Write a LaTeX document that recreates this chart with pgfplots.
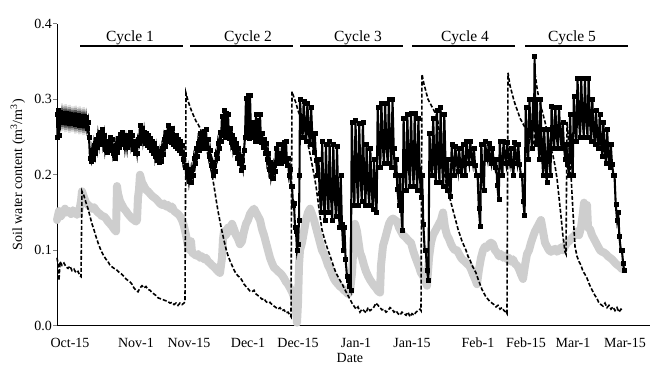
\documentclass[border=0pt]{standalone}
\usepackage{fontspec}
\setmainfont{Liberation Serif}
\usepackage{pgfplots}
\pgfplotsset{compat=1.18}
\definecolor{lgray}{RGB}{206,206,206}
\newcommand{\fs}{\fontsize{14}{16.8}\selectfont}
\begin{document}
\begin{tikzpicture}[x=1pt,y=1pt,font=\fs]
\useasboundingbox (0,0) rectangle (650,365);
\begin{axis}[
  at={(57,52)}, anchor=south west,
  scale only axis, width=593pt, height=302pt,
  xmin=57, xmax=650, ymin=0, ymax=0.4,
  axis x line*=bottom, axis y line*=left,
  axis line style={-, line width=1pt},
  xtick={70,136,189,248,298,356,412,478,526,573,625},
  xticklabels={Oct-15,Nov-1,Nov-15,Dec-1,Dec-15,Jan-1,Jan-15,Feb-1,Feb-15,Mar-1,Mar-15},
  xtick style={draw=none},
  xticklabel style={anchor=base, yshift=-18pt, font=\fs},
  ytick={0,0.1,0.2,0.3,0.4},
  yticklabel style={font=\fs, inner sep=1pt, /pgf/number format/fixed, /pgf/number format/fixed zerofill, /pgf/number format/precision=1, /pgf/number format/assume math mode=true},
  tick align=outside, major tick length=4pt,
  ytick style={line width=0.8pt},
  xlabel={Date}, ylabel={Soil water content (m\textsuperscript{3}/m\textsuperscript{3})},
  xlabel style={at={(axis description cs:0.494,-0.107)}, anchor=center, font=\fs, inner sep=0pt},
  ylabel style={at={(axis description cs:-0.066,0.5)}, anchor=center, font=\fs},
  clip=false,
]
% gray series
\addplot[color=lgray, line width=8pt, line join=round, line cap=round] table {
57 0.14
59 0.152
61 0.145
63 0.15
65 0.155
67 0.15
69 0.152
71 0.148
73 0.153
75 0.15
77 0.147
79 0.15
81 0.165
82 0.178
84 0.17
86 0.163
88 0.16
90 0.158
92 0.155
94 0.157
96 0.153
98 0.15
100 0.148
102 0.145
104 0.145
106 0.142
108 0.138
110 0.135
112 0.132
114 0.128
116 0.125
117 0.185
118 0.175
120 0.165
122 0.16
124 0.155
126 0.152
128 0.148
130 0.145
132 0.142
134 0.14
136 0.138
137 0.14
138 0.17
139 0.18
140 0.2
142 0.19
144 0.185
146 0.18
148 0.178
150 0.175
152 0.172
154 0.17
156 0.168
158 0.165
160 0.162
162 0.16
164 0.162
166 0.158
168 0.16
170 0.155
172 0.158
174 0.152
176 0.15
178 0.148
180 0.145
182 0.14
184 0.132
186 0.12
188 0.105
190 0.1
191 0.112
192 0.097
194 0.095
196 0.093
198 0.095
200 0.09
202 0.092
204 0.088
206 0.09
208 0.085
210 0.083
212 0.08
214 0.078
216 0.075
218 0.072
220 0.07
222 0.09
223 0.115
224 0.125
226 0.12
228 0.13
230 0.125
232 0.135
234 0.128
236 0.12
238 0.115
240 0.108
242 0.112
244 0.125
246 0.135
248 0.14
250 0.148
252 0.152
254 0.155
256 0.15
258 0.145
260 0.14
262 0.128
264 0.12
266 0.11
268 0.1
270 0.09
272 0.083
274 0.077
276 0.075
278 0.072
280 0.07
282 0.067
284 0.063
286 0.058
288 0.055
290 0.05
292 0.045
294 0.038
296 0.02
297 0.004
298 0.03
299 0.08
300 0.1
302 0.11
304 0.125
306 0.14
308 0.15
310 0.155
312 0.148
314 0.14
316 0.13
318 0.12
320 0.11
322 0.1
324 0.095
326 0.088
328 0.08
330 0.075
332 0.068
334 0.062
336 0.058
338 0.055
340 0.052
342 0.05
344 0.047
346 0.045
348 0.042
350 0.045
352 0.07
354 0.12
355 0.135
357 0.125
360 0.097
362 0.09
364 0.08
366 0.072
368 0.066
370 0.061
372 0.057
374 0.053
376 0.05
378 0.046
380 0.044
381 0.08
383 0.106
385 0.115
387 0.125
389 0.135
391 0.14
393 0.142
395 0.14
397 0.138
399 0.13
401 0.125
403 0.12
405 0.118
407 0.115
409 0.112
411 0.11
413 0.1
415 0.092
417 0.085
419 0.078
421 0.07
423 0.066
425 0.06
427 0.053
429 0.09
431 0.11
433 0.12
435 0.125
437 0.13
439 0.135
441 0.14
443 0.15
445 0.13
447 0.12
449 0.115
451 0.108
453 0.103
455 0.1
457 0.1
459 0.095
461 0.09
463 0.087
465 0.085
467 0.082
469 0.08
471 0.075
473 0.068
475 0.062
477 0.055
479 0.075
481 0.09
483 0.1
485 0.105
487 0.103
489 0.108
491 0.11
493 0.108
495 0.1
497 0.097
499 0.092
501 0.095
503 0.09
505 0.093
507 0.088
509 0.09
511 0.085
513 0.088
515 0.082
517 0.08
519 0.075
521 0.068
523 0.062
525 0.08
527 0.095
529 0.1
531 0.11
533 0.118
535 0.125
537 0.13
539 0.135
541 0.14
543 0.125
545 0.11
547 0.105
549 0.1
551 0.098
553 0.1
555 0.102
557 0.098
559 0.1
561 0.104
563 0.1
565 0.105
567 0.11
569 0.112
571 0.115
573 0.118
575 0.12
577 0.125
579 0.12
581 0.13
583 0.15
584 0.163
585 0.14
587 0.16
588 0.13
590 0.128
592 0.12
594 0.115
596 0.11
598 0.105
600 0.1
602 0.098
604 0.097
606 0.095
608 0.092
610 0.09
612 0.088
614 0.085
616 0.082
618 0.08
620 0.078
622 0.075
};
% black series
\addplot[black, line width=2.1pt, mark=square*, mark size=2pt, mark options={line width=0.4pt}] table {
57 0.28
57.5 0.25
58.5 0.285
59 0.252
60 0.283
61 0.27
62 0.282
63 0.27
64 0.281
65 0.269
66 0.281
67 0.269
68 0.28
69 0.268
70 0.28
71 0.268
72 0.279
73 0.268
74 0.279
75 0.267
76 0.279
77 0.267
78 0.278
79 0.266
80 0.278
81 0.266
82 0.277
83 0.265
84 0.277
85 0.265
86 0.276
87 0.262
88 0.27
89 0.25
90 0.222
91 0.218
92 0.232
93 0.221
94 0.239
95 0.229
96 0.247
97 0.236
98 0.252
99 0.241
100 0.257
101 0.244
102 0.26
103 0.242
104 0.252
105 0.234
106 0.244
107 0.23
108 0.245
109 0.233
110 0.25
111 0.235
112 0.247
113 0.228
114 0.235
115 0.222
116 0.239
117 0.23
118 0.249
119 0.237
120 0.254
121 0.241
122 0.257
123 0.24
124 0.252
125 0.236
126 0.247
127 0.236
128 0.252
129 0.24
130 0.257
131 0.241
132 0.252
133 0.234
134 0.245
135 0.228
136 0.239
137 0.229
138 0.247
139 0.242
140 0.265
141 0.25
142 0.262
143 0.246
144 0.257
145 0.242
146 0.255
147 0.239
148 0.252
149 0.236
150 0.249
151 0.233
152 0.245
153 0.229
154 0.242
155 0.225
156 0.235
157 0.219
158 0.231
159 0.216
160 0.229
161 0.218
162 0.235
163 0.227
164 0.247
165 0.238
166 0.257
167 0.245
168 0.266
169 0.245
170 0.255
171 0.243
172 0.262
173 0.24
174 0.252
175 0.238
176 0.252
177 0.235
178 0.247
179 0.232
180 0.245
181 0.228
182 0.239
183 0.22
184 0.227
185 0.21
186 0.212
187 0.198
188 0.207
189 0.192
190 0.203
191 0.19
192 0.207
193 0.2
194 0.222
195 0.215
196 0.235
197 0.225
198 0.242
199 0.232
200 0.255
201 0.235
202 0.247
203 0.235
204 0.258
205 0.238
206 0.26
207 0.235
208 0.247
209 0.225
210 0.232
211 0.212
212 0.217
213 0.2
214 0.212
215 0.205
216 0.227
217 0.222
218 0.242
219 0.235
220 0.257
221 0.245
222 0.278
223 0.252
224 0.285
225 0.25
226 0.282
227 0.25
228 0.28
229 0.248
230 0.262
231 0.243
232 0.252
233 0.236
234 0.247
235 0.23
236 0.242
237 0.222
238 0.235
239 0.215
240 0.225
241 0.206
242 0.219
243 0.21
244 0.232
245 0.25
246 0.302
247 0.25
248 0.305
249 0.248
250 0.305
251 0.252
252 0.27
253 0.25
254 0.265
255 0.245
256 0.28
257 0.247
258 0.272
259 0.245
260 0.28
261 0.243
262 0.255
263 0.236
264 0.247
265 0.228
266 0.242
267 0.22
268 0.229
269 0.208
270 0.217
271 0.198
272 0.207
273 0.195
274 0.212
275 0.205
276 0.235
277 0.215
278 0.24
279 0.215
280 0.229
281 0.215
282 0.24
283 0.218
284 0.243
285 0.218
286 0.245
287 0.212
288 0.222
289 0.2
290 0.207
291 0.185
292 0.185
293 0.16
294 0.162
295 0.13
296 0.125
297 0.1
298 0.108
299 0.14
299.5 0.2
300.0 0.300
301.2 0.268
302.6 0.250
303.7 0.298
304.9 0.264
306.3 0.245
307.4 0.295
308.6 0.259
310.0 0.240
311.1 0.290
312.3 0.251
313.7 0.230
314.8 0.255
316.0 0.219
317.4 0.200
318.5 0.220
319.7 0.175
321.1 0.150
322.2 0.244
323.4 0.176
324.8 0.140
325.9 0.240
327.1 0.182
328.5 0.150
329.6 0.244
330.8 0.176
332.2 0.140
333.3 0.240
334.5 0.178
335.9 0.145
337.0 0.238
338.2 0.168
339.6 0.130
340.7 0.200
341.9 0.135
343.3 0.100
344.4 0.130
345.6 0.088
347.0 0.065
348.1 0.060
349.3 0.052
350.7 0.047
351.8 0.270
353.0 0.199
354.4 0.160
355.5 0.272
356.7 0.199
358.1 0.160
359.2 0.268
360.4 0.201
361.8 0.165
362.9 0.270
364.1 0.199
365.5 0.160
366.6 0.240
367.8 0.188
369.2 0.160
370.3 0.235
371.5 0.183
372.9 0.155
374.0 0.220
375.2 0.175
376.6 0.150
377.7 0.290
378.9 0.238
380.3 0.210
381.4 0.295
382.6 0.243
384.0 0.215
385.1 0.295
386.3 0.243
387.7 0.215
388.8 0.300
390.0 0.242
391.4 0.210
392.5 0.300
393.7 0.235
395.1 0.200
396.2 0.220
397.4 0.181
398.8 0.160
399.9 0.200
401.1 0.153
402.5 0.127
403.6 0.275
404.8 0.213
406.2 0.180
407.3 0.280
408.5 0.218
409.9 0.185
411.0 0.282
412.2 0.219
413.6 0.185
414.7 0.282
415.9 0.216
417.3 0.180
418.4 0.275
419.6 0.207
421.0 0.170
422.1 0.200
423.3 0.135
424.7 0.100
425.8 0.100
427.0 0.074
428.4 0.060
429.5 0.255
430.7 0.219
432.1 0.200
433.2 0.275
434.4 0.220
435.8 0.190
436.9 0.285
438.1 0.223
439.5 0.190
440.6 0.289
441.8 0.221
443.2 0.185
444.3 0.280
445.5 0.215
446.9 0.180
448.0 0.220
449.2 0.189
450.6 0.172
451.7 0.240
452.9 0.214
454.3 0.200
455.4 0.238
456.6 0.217
458.0 0.205
459.1 0.235
460.3 0.212
461.7 0.200
462.8 0.240
464.0 0.214
465.4 0.200
466.5 0.245
467.7 0.226
469.1 0.215
470.2 0.245
471.4 0.226
472.8 0.215
473.9 0.235
475.1 0.212
476.5 0.200
477.6 0.200
478.8 0.156
480.2 0.132
481.3 0.240
482.5 0.201
483.9 0.180
485.0 0.245
486.2 0.229
487.6 0.220
488.7 0.242
489.9 0.224
491.3 0.215
492.4 0.235
493.6 0.219
495.0 0.210
496.1 0.220
497.3 0.186
498.7 0.167
499.8 0.245
501.0 0.216
502.4 0.200
503.5 0.245
504.7 0.226
506.1 0.215
507.2 0.243
508.4 0.225
509.8 0.215
510.9 0.235
512.1 0.212
513.5 0.200
514.6 0.243
515.8 0.225
517.2 0.215
518.3 0.240
519.5 0.214
520.9 0.200
522.0 0.200
523.2 0.165
524.6 0.146
525.7 0.290
526.9 0.245
528.3 0.220
529.4 0.300
530.6 0.258
532.0 0.235
533.1 0.300
534.0 0.261
534.6 0.357
535.7 0.240
536.8 0.300
538.0 0.248
539.4 0.220
540.5 0.300
541.7 0.235
543.1 0.200
544.2 0.260
545.4 0.215
546.8 0.190
547.9 0.260
549.1 0.221
550.5 0.200
551.6 0.291
552.8 0.255
554.2 0.235
555.3 0.290
556.5 0.254
557.9 0.235
559.0 0.290
560.2 0.254
561.6 0.235
562.7 0.270
563.9 0.238
565.3 0.220
566.4 0.240
567.6 0.214
569.0 0.200
570.1 0.280
571.3 0.228
572.7 0.200
573.8 0.304
575.0 0.266
576.4 0.245
577.5 0.328
578.7 0.277
580.1 0.250
581.2 0.328
582.4 0.277
583.8 0.250
584.9 0.328
586.1 0.277
587.5 0.250
588.6 0.328
589.8 0.274
591.2 0.245
592.3 0.300
593.5 0.261
594.9 0.240
596.0 0.285
597.2 0.253
598.6 0.235
599.7 0.280
600.9 0.244
602.3 0.225
603.4 0.270
604.6 0.234
606.0 0.215
607.1 0.260
608.3 0.228
609.7 0.210
610.8 0.240
612.0 0.214
613.4 0.200
614.5 0.200
615.7 0.161
617.1 0.140
618.2 0.150
619.4 0.118
620.8 0.100
621.9 0.100
623.1 0.083
624.0 0.074
};
% dashed series
\addplot[black, line width=1.6pt, dash pattern=on 4pt off 2pt] table {
57 0.09
58 0.082
59 0.06
60 0.085
62 0.08
64 0.083
66 0.078
68 0.076
70 0.079
72 0.073
74 0.075
76 0.07
78 0.072
80 0.066
81 0.065
82 0.178
84 0.172
86 0.163
88 0.155
90 0.145
92 0.135
94 0.127
96 0.118
98 0.11
100 0.103
102 0.097
104 0.092
106 0.088
108 0.085
110 0.08
112 0.078
114 0.076
116 0.075
118 0.072
120 0.07
122 0.068
124 0.065
126 0.062
128 0.06
130 0.058
132 0.055
134 0.05
136 0.047
138 0.045
140 0.05
142 0.053
144 0.05
146 0.052
148 0.048
150 0.047
152 0.044
154 0.042
156 0.04
158 0.037
160 0.036
162 0.035
164 0.034
166 0.033
168 0.032
170 0.03
172 0.031
174 0.028
176 0.03
178 0.027
180 0.03
182 0.028
184 0.03
185 0.032
186 0.308
188 0.298
190 0.29
192 0.283
194 0.277
196 0.271
198 0.267
200 0.262
202 0.255
204 0.246
206 0.236
208 0.226
210 0.215
212 0.2
214 0.185
216 0.168
218 0.152
220 0.138
222 0.125
224 0.113
226 0.102
228 0.093
230 0.086
232 0.08
234 0.074
236 0.069
238 0.066
240 0.064
242 0.06
244 0.055
246 0.052
248 0.049
250 0.046
252 0.045
254 0.047
256 0.042
258 0.04
260 0.038
262 0.035
264 0.036
266 0.032
268 0.03
270 0.031
272 0.028
274 0.026
276 0.024
278 0.022
280 0.024
282 0.02
284 0.021
286 0.017
288 0.018
290 0.014
291 0.012
292 0.31
294 0.302
296 0.295
298 0.285
300 0.278
302 0.27
304 0.262
306 0.252
308 0.24
310 0.228
312 0.214
314 0.2
316 0.185
318 0.165
320 0.145
322 0.127
324 0.117
326 0.108
328 0.1
330 0.093
332 0.085
334 0.077
336 0.07
338 0.065
340 0.06
342 0.056
344 0.05
346 0.045
348 0.04
350 0.035
352 0.03
354 0.026
356 0.022
358 0.025
360 0.018
362 0.022
364 0.02
366 0.017
368 0.024
370 0.02
372 0.022
374 0.025
376 0.03
378 0.027
380 0.024
382 0.021
384 0.022
386 0.018
388 0.02
390 0.024
392 0.022
394 0.018
396 0.02
398 0.016
400 0.014
402 0.018
404 0.016
406 0.014
408 0.018
410 0.012
412 0.016
414 0.014
416 0.018
418 0.02
420 0.022
421 0.02
422 0.333
424 0.32
426 0.31
428 0.3
430 0.295
432 0.29
434 0.285
436 0.28
438 0.27
440 0.25
442 0.225
444 0.205
446 0.19
448 0.178
450 0.168
452 0.158
454 0.148
456 0.138
458 0.128
460 0.12
462 0.112
464 0.106
466 0.1
468 0.092
470 0.087
472 0.08
474 0.075
476 0.07
478 0.062
480 0.055
482 0.048
484 0.043
486 0.038
488 0.035
490 0.032
492 0.03
494 0.028
496 0.025
498 0.027
500 0.022
502 0.024
504 0.02
506 0.018
507 0.016
508 0.335
510 0.318
512 0.308
514 0.298
516 0.29
518 0.283
520 0.275
522 0.27
524 0.265
526 0.26
528 0.255
530 0.25
532 0.245
534 0.24
535 0.335
537 0.315
539 0.3
541 0.29
543 0.28
545 0.27
547 0.258
549 0.245
551 0.235
553 0.225
555 0.212
557 0.195
559 0.17
561 0.145
563 0.118
565 0.098
566 0.095
567 0.27
569 0.24
571 0.2
573 0.15
575 0.105
577 0.092
579 0.085
581 0.08
583 0.072
585 0.068
587 0.063
589 0.056
591 0.05
593 0.045
595 0.04
597 0.036
599 0.03
601 0.028
603 0.026
605 0.03
607 0.024
609 0.027
611 0.022
613 0.025
615 0.02
617 0.024
619 0.018
621 0.022
623 0.02
};
% cycle bars and labels
\draw[line width=2pt] (axis cs:80,0.3705) -- (axis cs:183,0.3705);
\draw[line width=2pt] (axis cs:190,0.3705) -- (axis cs:293,0.3705);
\draw[line width=2pt] (axis cs:300,0.3705) -- (axis cs:403,0.3705);
\draw[line width=2pt] (axis cs:412,0.3705) -- (axis cs:515,0.3705);
\draw[line width=2pt] (axis cs:525,0.3705) -- (axis cs:628,0.3705);
\node[anchor=base, font=\fontsize{15.5}{18}\selectfont] at (axis cs:130,0.377) {Cycle 1};
\node[anchor=base, font=\fontsize{15.5}{18}\selectfont] at (axis cs:248,0.377) {Cycle 2};
\node[anchor=base, font=\fontsize{15.5}{18}\selectfont] at (axis cs:358,0.377) {Cycle 3};
\node[anchor=base, font=\fontsize{15.5}{18}\selectfont] at (axis cs:465,0.377) {Cycle 4};
\node[anchor=base, font=\fontsize{15.5}{18}\selectfont] at (axis cs:572,0.377) {Cycle 5};
\end{axis}
\end{tikzpicture}
\end{document}
